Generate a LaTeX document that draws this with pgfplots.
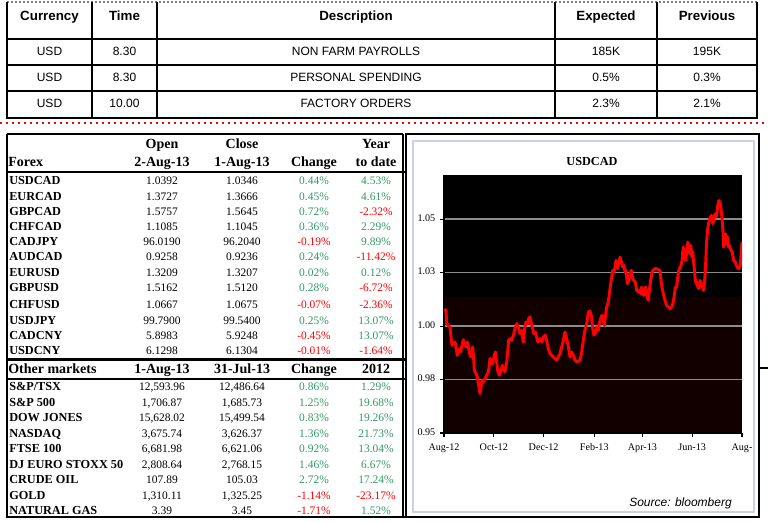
\documentclass[border=0pt]{standalone}
\usepackage{pgfplots}
\pgfplotsset{compat=1.18}
\usepackage{fontspec}
\setmainfont{Liberation Serif}
\newfontfamily\arial{Liberation Sans}
\definecolor{posgreen}{HTML}{339966}
\definecolor{negred}{HTML}{FF0000}
\definecolor{panelborder}{HTML}{C9D3E3}
\definecolor{darkband}{HTML}{120000}
\definecolor{gridgray}{HTML}{8C8C8C}
\tikzset{
  tt/.style={inner sep=0pt, font=\fontsize{8.6}{10}\selectfont},
  tn/.style={inner sep=0pt, font=\bfseries\fontsize{9.2}{10}\selectfont},
  th/.style={inner sep=0pt, font=\bfseries\fontsize{10.5}{12}\selectfont},
  ah/.style={inner sep=0pt, font=\arial\bfseries\fontsize{10}{12}\selectfont},
  ab/.style={inner sep=0pt, font=\arial\fontsize{9}{11}\selectfont},
}
\newcommand\frow[8]{%
  \node[tn,anchor=mid west] at (9,#1) {#2};
  \node[tt,anchor=mid] at (162,#1) {#3};
  \node[tt,anchor=mid] at (242,#1) {#4};
  \node[tt,anchor=mid,text=#5] at (314,#1) {#6};
  \node[tt,anchor=mid,text=#7] at (376,#1) {#8};
}
\newcommand\trow[6]{%
  \node[ab,anchor=mid] at (49.5,#1) {#2};
  \node[ab,anchor=mid] at (124.5,#1) {#3};
  \node[ab,anchor=mid] at (356,#1) {#4};
  \node[ab,anchor=mid] at (606,#1) {#5};
  \node[ab,anchor=mid] at (707,#1) {#6};
}
\begin{document}
\begin{tikzpicture}
\begin{scope}[x=0.75pt,y=-0.75pt]
\fill[white] (0,0) rectangle (768,522);
\useasboundingbox (0,0) rectangle (768,522);
% ---------- top table ----------
\draw[gray, line width=0.8pt, dash pattern=on 1.2pt off 1.8pt] (7,2) -- (757,2);
\draw[line width=1.3pt] (7,2) -- (7,118) -- (757,118) -- (757,2);
\foreach \yy in {39,65,91} \draw[line width=1.3pt] (7,\yy) -- (757,\yy);
\foreach \xx in {92,157,555,657} \draw[line width=1.3pt] (\xx,2) -- (\xx,118);
\node[ah,anchor=mid] at (49.5,17) {Currency};
\node[ah,anchor=mid] at (124.5,17) {Time};
\node[ah,anchor=mid] at (356,17) {Description};
\node[ah,anchor=mid] at (606,17) {Expected};
\node[ah,anchor=mid] at (707,17) {Previous};
\trow{52}{USD}{8.30}{NON FARM PAYROLLS}{185K}{195K}
\trow{78}{USD}{8.30}{PERSONAL SPENDING}{0.5\%}{0.3\%}
\trow{104}{USD}{10.00}{FACTORY ORDERS}{2.3\%}{2.1\%}
% red dotted separator
\draw[negred, line width=1.2pt, dash pattern=on 1.3pt off 3.2pt] (0,123) -- (768,123);
% ---------- bottom-left table ----------
\draw[line width=1.3pt] (7,134) -- (403,134);
\draw[line width=1.3pt] (7,134) -- (7,517) -- (759,517);
\draw[line width=1.3pt] (403,134) -- (403,517);
\draw[line width=1.3pt] (7,172) -- (406,172);
\draw[line width=1.8pt] (7,359.5) -- (406,359.5);
\draw[line width=1.3pt] (7,379) -- (406,379);
\node[th,anchor=mid] at (162,145) {Open};
\node[th,anchor=mid] at (242,145) {Close};
\node[th,anchor=mid] at (376,145) {Year};
\node[th,anchor=mid west] at (8,163) {Forex};
\node[th,anchor=mid] at (162,163) {2-Aug-13};
\node[th,anchor=mid] at (242,163) {1-Aug-13};
\node[th,anchor=mid] at (314,163) {Change};
\node[th,anchor=mid] at (376,163) {to date};
\frow{181}{USDCAD}{1.0392}{1.0346}{posgreen}{0.44\%}{posgreen}{4.53\%}
\frow{197}{EURCAD}{1.3727}{1.3666}{posgreen}{0.45\%}{posgreen}{4.61\%}
\frow{212}{GBPCAD}{1.5757}{1.5645}{posgreen}{0.72\%}{negred}{-2.32\%}
\frow{227.5}{CHFCAD}{1.1085}{1.1045}{posgreen}{0.36\%}{posgreen}{2.29\%}
\frow{242.5}{CADJPY}{96.0190}{96.2040}{negred}{-0.19\%}{posgreen}{9.89\%}
\frow{257.5}{AUDCAD}{0.9258}{0.9236}{posgreen}{0.24\%}{negred}{-11.42\%}
\frow{273}{EURUSD}{1.3209}{1.3207}{posgreen}{0.02\%}{posgreen}{0.12\%}
\frow{288}{GBPUSD}{1.5162}{1.5120}{posgreen}{0.28\%}{negred}{-6.72\%}
\frow{305}{CHFUSD}{1.0667}{1.0675}{negred}{-0.07\%}{negred}{-2.36\%}
\frow{321}{USDJPY}{99.7900}{99.5400}{posgreen}{0.25\%}{posgreen}{13.07\%}
\frow{336.5}{CADCNY}{5.8983}{5.9248}{negred}{-0.45\%}{posgreen}{13.07\%}
\frow{351.5}{USDCNY}{6.1298}{6.1304}{negred}{-0.01\%}{negred}{-1.64\%}
\node[th,anchor=mid west] at (8,370) {Other markets};
\node[th,anchor=mid] at (162,370) {1-Aug-13};
\node[th,anchor=mid] at (242,370) {31-Jul-13};
\node[th,anchor=mid] at (314,370) {Change};
\node[th,anchor=mid] at (376,370) {2012};
\frow{387}{S\&P/TSX}{12,593.96}{12,486.64}{posgreen}{0.86\%}{posgreen}{1.29\%}
\frow{403}{S\&P 500}{1,706.87}{1,685.73}{posgreen}{1.25\%}{posgreen}{19.68\%}
\frow{418.5}{DOW JONES}{15,628.02}{15,499.54}{posgreen}{0.83\%}{posgreen}{19.26\%}
\frow{434}{NASDAQ}{3,675.74}{3,626.37}{posgreen}{1.36\%}{posgreen}{21.73\%}
\frow{449.5}{FTSE 100}{6,681.98}{6,621.06}{posgreen}{0.92\%}{posgreen}{13.04\%}
\frow{465}{DJ EURO STOXX 50}{2,808.64}{2,768.15}{posgreen}{1.46\%}{posgreen}{6.67\%}
\frow{480.5}{CRUDE OIL}{107.89}{105.03}{posgreen}{2.72\%}{posgreen}{17.24\%}
\frow{496}{GOLD}{1,310.11}{1,325.25}{negred}{-1.14\%}{negred}{-23.17\%}
\frow{511}{NATURAL GAS}{3.39}{3.45}{negred}{-1.71\%}{posgreen}{1.52\%}
% ---------- chart panel ----------
\draw[line width=1.3pt] (406,134) rectangle (759,517);
\draw[line width=1.3pt] (759,368) -- (768,368);
\draw[panelborder, line width=1.6pt] (413,141) rectangle (754,512);
\fill[black] (444,175) rectangle (742,297);
\fill[darkband] (444,297) rectangle (742,433);
\node[inner sep=0pt, font=\bfseries\fontsize{9.2}{10}\selectfont, anchor=mid] at (592,162) {USDCAD};
\node[inner sep=0pt, anchor=mid west, font=\arial\itshape\fontsize{9}{11}\selectfont] at (629,503) {Source: bloomberg};
\end{scope}
\begin{axis}[
  at={(333pt,-324.75pt)}, anchor=south west,
  width=223.5pt, height=193.5pt, scale only axis,
  xmin=0, xmax=365, ymin=0.9525, ymax=1.0731,
  axis lines=left, axis line style={-, black, line width=1.1pt},
  tick align=outside, major tick length=3pt,
  tick style={black, line width=0.8pt},
  xtick={0,61,122,184,243,304,365},
  xticklabels={Aug-12,Oct-12,Dec-12,Feb-13,Apr-13,Jun-13,Aug-},
  ytick={0.9525,0.9775,1.0025,1.0275,1.0525},
  yticklabels={0.95,0.98,1.00,1.03,1.05},
  ymajorgrids, grid style={gridgray, line width=1.1pt},
  ticklabel style={font=\fontsize{7.6}{8}\selectfont, text=black},
  typeset ticklabels with strut,
  xticklabel style={yshift=-1pt},
  clip=true,
]
\addplot[negred, line width=2.2pt, line join=round] coordinates {
(0,1.0098) (2.4,1.0101) (3.3,1.0036) (5.3,1.0028) (7.3,1.0020) (8.6,0.9974)
(9.8,0.9935) (11.4,0.9943) (13.5,0.9950) (14.7,0.9927) (16.3,0.9888) (17.6,0.9904)
(18.8,0.9919) (20.4,0.9904) (22.0,0.9935) (23.7,0.9961) (25.3,0.9943) (27.0,0.9927)
(28.6,0.9950) (30.2,0.9919) (31.8,0.9888) (33.5,0.9880) (35.1,0.9927) (35.9,0.9896)
(37.2,0.9818) (39.2,0.9803) (40.8,0.9787) (42.5,0.9748) (44.1,0.9709) (45.3,0.9740)
(46.5,0.9771) (48.2,0.9764) (50.2,0.9779) (52.3,0.9795) (54.3,0.9810) (55.5,0.9841)
(56.3,0.9873) (58.0,0.9857) (59.6,0.9849) (61.2,0.9880) (62.9,0.9904) (64.5,0.9857)
(65.7,0.9818) (67.8,0.9795) (69.8,0.9818) (71.5,0.9841) (72.7,0.9826) (74.7,0.9810)
(76.8,0.9857) (78.0,0.9904) (79.2,0.9958) (80.8,0.9966) (82.9,0.9958) (84.9,0.9982)
(87.0,1.0013) (89.0,1.0036) (91.0,1.0020) (93.1,0.9989) (95.1,1.0005) (97.2,0.9950)
(98.8,1.0013) (100.4,1.0044) (102.1,1.0036) (103.7,1.0059) (105.3,1.0067) (107.0,1.0036)
(108.6,1.0013) (110.2,0.9989) (111.9,0.9997) (113.5,0.9974) (115.1,0.9950) (116.8,0.9958)
(118.4,0.9966) (120.0,0.9950) (121.7,0.9974) (124.1,0.9982) (125.8,0.9958) (127.8,0.9919)
(129.8,0.9896) (133.9,0.9880) (138.0,0.9865) (142.1,0.9896) (146.2,0.9958) (148.2,0.9997)
(150.3,0.9966) (152.3,0.9927) (154.4,0.9880) (156.4,0.9904) (158.5,0.9888) (160.5,0.9865)
(162.5,0.9857) (166.6,0.9865) (168.7,0.9904) (170.6,0.9958) (172.6,1.0005) (174.7,1.0036)
(176.8,1.0090) (178.8,1.0095) (180.8,1.0067) (182.1,1.0013) (183.7,0.9982) (185.3,0.9990)
(187.0,1.0020) (189.0,1.0005) (190.3,1.0036) (191.9,1.0060) (193.5,1.0075) (195.2,1.0052)
(196.4,1.0028) (197.6,1.0067) (199.2,1.0114) (201.3,1.0137) (202.5,1.0176) (204.2,1.0223)
(205.4,1.0254) (206.6,1.0285) (208.2,1.0277) (209.4,1.0301) (210.7,1.0332) (212.3,1.0293)
(213.9,1.0316) (215.6,1.0347) (217.2,1.0324) (218.8,1.0301) (220.5,1.0308) (221.7,1.0277)
(222.9,1.0285) (224.6,1.0223) (226.2,1.0238) (227.8,1.0270) (229.4,1.0285) (231.1,1.0246)
(232.7,1.0238) (234.3,1.0230) (236.0,1.0192) (237.6,1.0184) (239.2,1.0192) (240.9,1.0176)
(242.1,1.0207) (244.2,1.0168) (245.4,1.0192) (247.0,1.0207) (248.2,1.0168) (250.3,1.0145)
(251.5,1.0192) (253.1,1.0238) (254.8,1.0277) (256.4,1.0288) (258.5,1.0293) (260.5,1.0293)
(262.6,1.0288) (264.6,1.0285) (265.8,1.0238) (267.0,1.0207) (268.7,1.0176) (270.7,1.0145)
(272.8,1.0122) (274.8,1.0114) (276.9,1.0106) (278.9,1.0114) (280.9,1.0137) (282.2,1.0176)
(283.4,1.0207) (285.0,1.0207) (286.3,1.0254) (287.5,1.0285) (289.1,1.0298) (290.3,1.0308)
(291.6,1.0332) (292.4,1.0371) (293.2,1.0394) (294.5,1.0347) (296.1,1.0332) (297.3,1.0371)
(298.6,1.0417) (299.8,1.0394) (301.0,1.0363) (302.3,1.0402) (303.5,1.0347) (304.7,1.0371)
(305.5,1.0332) (306.4,1.0301) (307.6,1.0246) (308.8,1.0223) (309.6,1.0230) (310.9,1.0207)
(312.1,1.0200) (313.7,1.0238) (315.4,1.0223) (316.6,1.0207) (317.8,1.0192) (319.0,1.0223)
(320.3,1.0301) (321.5,1.0410) (322.7,1.0472) (324.4,1.0511) (326.0,1.0534) (327.6,1.0542)
(329.3,1.0503) (330.9,1.0534) (332.1,1.0550) (333.4,1.0534) (334.6,1.0565) (335.4,1.0589)
(336.7,1.0612) (337.9,1.0604) (339.1,1.0581) (340.4,1.0534) (341.6,1.0472) (342.4,1.0394)
(343.7,1.0425) (344.9,1.0456) (346.1,1.0410) (347.4,1.0441) (348.6,1.0394) (349.8,1.0402)
(351.5,1.0379) (353.1,1.0371) (354.7,1.0332) (356.8,1.0324) (358.8,1.0301) (360.9,1.0293)
(362.9,1.0308) (364.5,1.0394) (365,1.0417)
};
\end{axis}
\end{tikzpicture}
\end{document}
